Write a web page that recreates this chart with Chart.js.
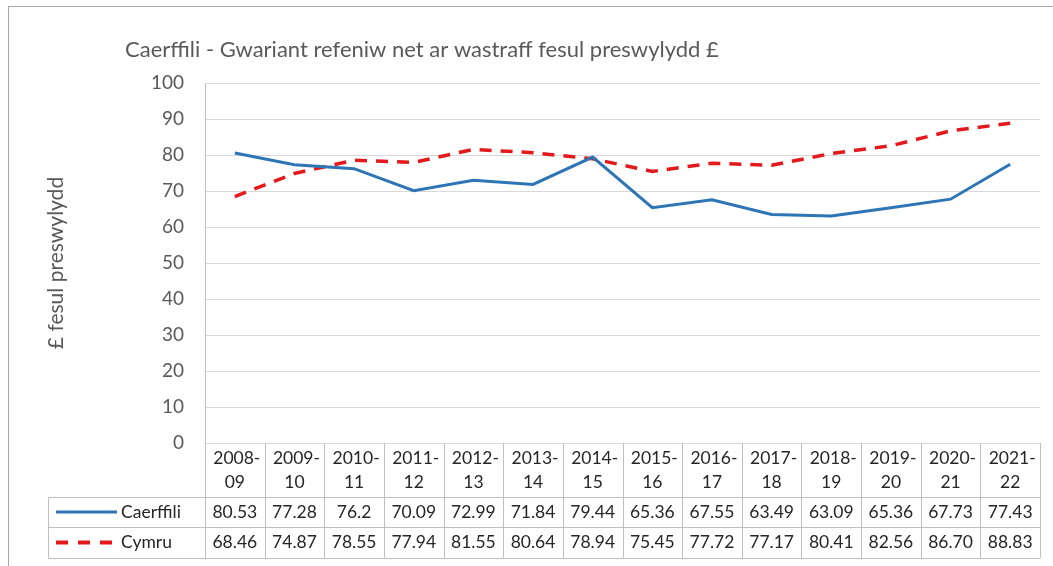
<!DOCTYPE html>
<html>
<head>
<meta charset="utf-8">
<script src="https://cdn.jsdelivr.net/npm/chart.js@4/dist/chart.umd.min.js"></script>
<style>
  html, body { margin: 0; padding: 0; background: #fff; }
  #wrap { width: 1053px; height: 566px; position: relative; }
</style>
</head>
<body>
<div id="wrap"><canvas id="myChart"></canvas></div>
<script>
const years = ['2008-09', '2009-10', '2010-11', '2011-12', '2012-13', '2013-14', '2014-15',
  '2015-16', '2016-17', '2017-18', '2018-19', '2019-20', '2020-21', '2021-22'];
const caerffili = [80.53, 77.28, 76.2, 70.09, 72.99, 71.84, 79.44, 65.36, 67.55, 63.49, 63.09, 65.36, 67.73, 77.43];
const cymru = [68.46, 74.87, 78.55, 77.94, 81.55, 80.64, 78.94, 75.45, 77.72, 77.17, 80.41, 82.56, 86.70, 88.83];
const cymruText = ['68.46', '74.87', '78.55', '77.94', '81.55', '80.64', '78.94', '75.45', '77.72', '77.17', '80.41', '82.56', '86.70', '88.83'];
const yTicks = [0, 10, 20, 30, 40, 50, 60, 70, 80, 90, 100];

const titleText = 'Caerffili - Gwariant refeniw net ar wastraff fesul preswylydd £';
const yTitle = '£ fesul preswylydd';
const font = 'Lato, "Open Sans", sans-serif';
const blue = '#2e75b6';
const red = '#e3191c';

// data table under the chart + title, axis title and frame
const tablePlugin = {
  id: 'tablePlugin',
  afterDraw(chart) {
    const c = chart.ctx;
    const x = chart.scales.x;
    const area = chart.chartArea;
    const step = x.getPixelForValue(1) - x.getPixelForValue(0);
    const top = area.bottom;
    const hdrBottom = top + 54;
    const r1 = hdrBottom + 30;
    const r2 = r1 + 31;
    const tableLeft = 48;
    const colLeft = x.getPixelForValue(0) - step / 2;
    const colRight = x.getPixelForValue(years.length - 1) + step / 2;
    c.save();

    // outer frame
    c.strokeStyle = '#a6a6a6';
    c.lineWidth = 1;
    c.strokeRect(8.5, 6.5, 1060, 570);

    // title
    c.fillStyle = '#595959';
    c.font = '22px ' + font;
    c.textAlign = 'left';
    c.textBaseline = 'middle';
    c.fillText(titleText, 125, 50);

    // y title
    c.save();
    c.translate(56, (area.top + area.bottom) / 2);
    c.rotate(-Math.PI / 2);
    c.textAlign = 'center';
    c.font = '21px ' + font;
    c.fillText(yTitle, 0, 0);
    c.restore();

    // table lines
    c.strokeStyle = '#bfbfbf';
    c.beginPath();
    for (let i = 0; i <= years.length; i++) {
      const px = Math.round(colLeft + i * step) + 0.5;
      c.moveTo(px, top);
      c.lineTo(px, r2);
    }
    c.moveTo(tableLeft + 0.5, hdrBottom);
    c.lineTo(tableLeft + 0.5, r2);
    [hdrBottom, r1, r2].forEach(yy => {
      c.moveTo(tableLeft, Math.round(yy) + 0.5);
      c.lineTo(colRight, Math.round(yy) + 0.5);
    });
    c.stroke();

    // text
    c.fillStyle = '#262626';
    c.font = '17.5px ' + font;
    c.textAlign = 'center';
    years.forEach((yr, i) => {
      const px = x.getPixelForValue(i);
      const parts = yr.split('-');
      c.fillText(parts[0] + '-', px + 2, top + 15);
      c.fillText(parts[1], px, top + 39);
      c.fillText(String(caerffili[i]), px, (hdrBottom + r1) / 2);
      c.fillText(cymruText[i], px, (r1 + r2) / 2);
    });

    // legend keys
    c.textAlign = 'left';
    c.lineWidth = 3;
    c.strokeStyle = blue;
    c.beginPath();
    c.moveTo(56, (hdrBottom + r1) / 2);
    c.lineTo(117, (hdrBottom + r1) / 2);
    c.stroke();
    c.fillText('Caerffili', 121, (hdrBottom + r1) / 2);
    c.strokeStyle = red;
    c.lineWidth = 4;
    c.setLineDash([12, 10]);
    c.beginPath();
    c.moveTo(56, (r1 + r2) / 2);
    c.lineTo(117, (r1 + r2) / 2);
    c.stroke();
    c.setLineDash([]);
    c.fillText('Cymru', 121, (r1 + r2) / 2);
    c.restore();
  }
};

new Chart('myChart', {
  type: 'line',
  data: {
    labels: years,
    datasets: [{
      label: 'Caerffili',
      data: caerffili,
      borderColor: blue,
      borderWidth: 3,
      pointRadius: 0,
      tension: 0
    }, {
      label: 'Cymru',
      data: cymru,
      borderColor: red,
      borderWidth: 3.5,
      borderDash: [12, 9],
      pointRadius: 0,
      tension: 0
    }]
  },
  options: {
    responsive: true,
    maintainAspectRatio: false,
    animation: false,
    layout: { padding: { left: 0, top: 83, right: 13, bottom: 123 } },
    plugins: {
      legend: { display: false },
      title: { display: false },
      tooltip: { enabled: false }
    },
    scales: {
      x: {
        display: false,
        offset: true
      },
      y: {
        min: 0,
        max: 100,
        afterBuildTicks: s => { s.ticks = yTicks.map(v => ({ value: v })); },
        afterFit: s => { s.width = 205; },
        grid: { color: '#d9d9d9', drawTicks: false },
        border: { display: true, color: '#bfbfbf' },
        ticks: {
          padding: 21,
          color: '#595959',
          font: { family: font, size: 19 }
        }
      }
    }
  },
  plugins: [tablePlugin]
});
</script>
</body>
</html>
